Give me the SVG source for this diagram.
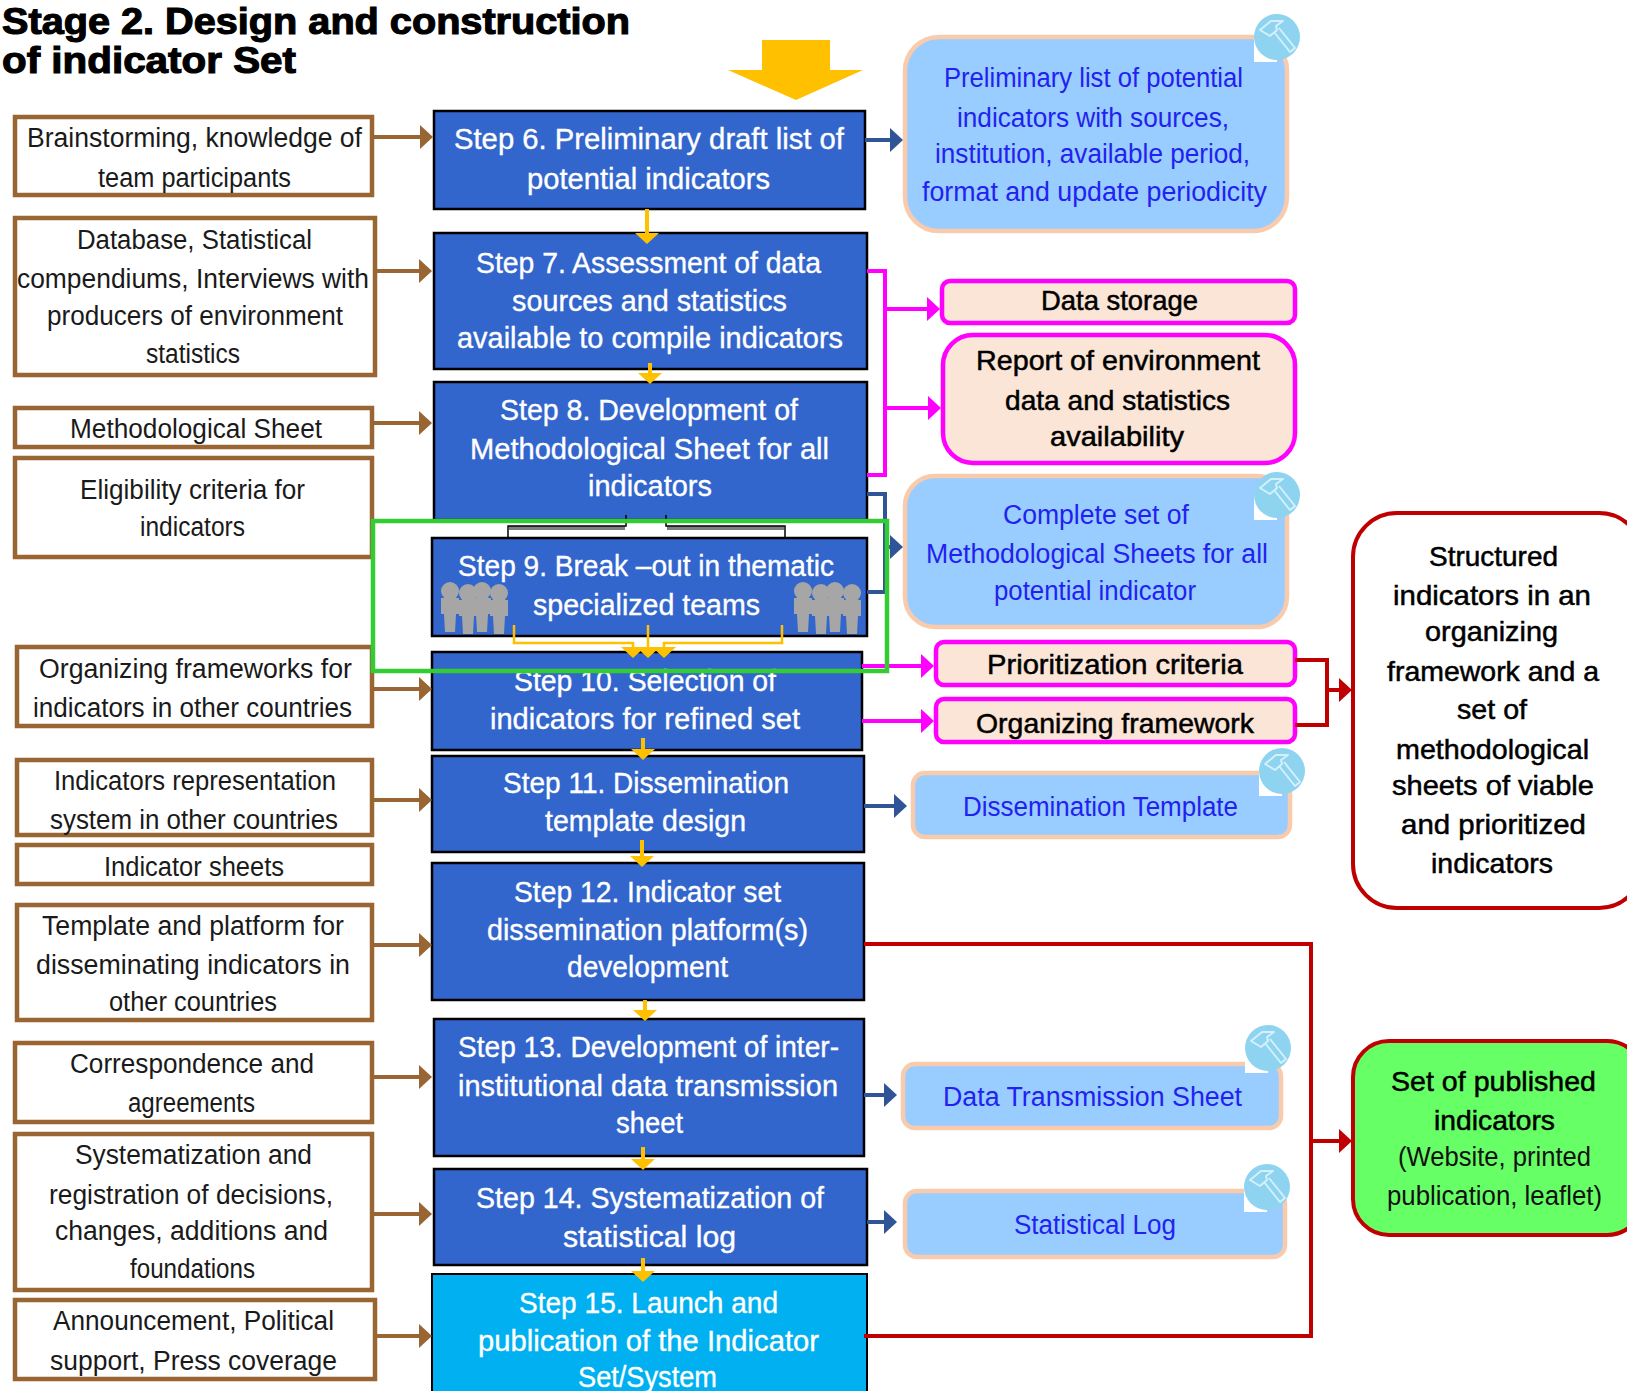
<svg xmlns="http://www.w3.org/2000/svg" width="1627" height="1391" viewBox="0 0 1627 1391">
<style>
text{font-family:"Liberation Sans",Arial,sans-serif;transform:translateY(-1px)}
.t{font-size:36px;font-weight:bold;fill:#000;stroke:#000;stroke-width:1.1;transform:translateY(1px)}
.l{font-size:27px;fill:#1a1a1a}
.c{font-size:29px;fill:#fff;stroke:#fff;stroke-width:.35}
.b{font-size:27px;fill:#2222f0}
.k{font-size:28px;fill:#000;stroke:#000;stroke-width:.5}
.n{font-size:27px;fill:#111}
.lb{fill:#fff;stroke:#996633;stroke-width:4.5}
.cb{fill:#3366cc;stroke:#000;stroke-width:2.5}
.bb{fill:#99ccff;stroke:#f8cbad;stroke-width:4.5}
.mb{fill:#fbe5d6;stroke:#ff00ff;stroke-width:4.5}
</style>
<defs>
<marker id="aBr" markerUnits="userSpaceOnUse" markerWidth="14" markerHeight="26" refX="1" refY="13" orient="auto"><path d="M0 1L13 13L0 25Z" fill="#996633"/></marker>
<marker id="aBl" markerUnits="userSpaceOnUse" markerWidth="14" markerHeight="26" refX="1" refY="13" orient="auto"><path d="M0 1L13 13L0 25Z" fill="#2f5597"/></marker>
<marker id="aMg" markerUnits="userSpaceOnUse" markerWidth="14" markerHeight="26" refX="1" refY="13" orient="auto"><path d="M0 1L13 13L0 25Z" fill="#ff00ff"/></marker>
<marker id="aRd" markerUnits="userSpaceOnUse" markerWidth="14" markerHeight="26" refX="1" refY="13" orient="auto"><path d="M0 1L13 13L0 25Z" fill="#c00000"/></marker>
<marker id="aYl" markerUnits="userSpaceOnUse" markerWidth="12" markerHeight="26" refX="1" refY="13" orient="auto"><path d="M0 1L11 13L0 25Z" fill="#ffc000"/></marker>
<g id="tool">
<rect x="-23" y="0" width="23" height="25" fill="#fff"/>
<circle r="23" fill="#8ed3f0"/>
<g fill="none" stroke="#d4f0fb" stroke-width="2" stroke-linejoin="round">
<path d="M-17 -7L-6 -16L6 -16L-1 -11L0 -7L-7 -1Z"/>
<path d="M-3 -5L13 15L18 11L2 -9"/>
</g>
</g>
<g id="man" fill="#a6a6a6">
<ellipse cx="0" cy="-17" rx="9" ry="9"/>
<path d="M-9 -10H9L9 6L6 6L5 24H-5L-6 6L-9 6Z"/>
</g>
<g id="team">
<use href="#man" x="11" y="21"/><use href="#man" x="29" y="23"/><use href="#man" x="43" y="21"/><use href="#man" x="60" y="23"/>
</g>
</defs>

<text class="t" x="2" y="33" textLength="628" lengthAdjust="spacingAndGlyphs">Stage 2. Design and construction</text>
<text class="t" x="2" y="72" textLength="294" lengthAdjust="spacingAndGlyphs">of indicator Set</text>
<polygon id="entry-arrow" points="762,40 830,40 830,70 863,70 796,100 728,70 762,70" fill="#ffc000"/>

<g id="src-1"><rect class="lb" x="15" y="117" width="357" height="78"/>
<text class="l" x="27" y="148" textLength="335" lengthAdjust="spacingAndGlyphs">Brainstorming, knowledge of</text>
<text class="l" x="98" y="188" textLength="193" lengthAdjust="spacingAndGlyphs">team participants</text></g>
<g id="src-2"><rect class="lb" x="15" y="218" width="360" height="157"/>
<text class="l" x="77" y="250" textLength="235" lengthAdjust="spacingAndGlyphs">Database, Statistical</text>
<text class="l" x="17" y="289" textLength="352" lengthAdjust="spacingAndGlyphs">compendiums, Interviews with</text>
<text class="l" x="47" y="326" textLength="296" lengthAdjust="spacingAndGlyphs">producers of environment</text>
<text class="l" x="146" y="364" textLength="94" lengthAdjust="spacingAndGlyphs">statistics</text></g>
<g id="src-3"><rect class="lb" x="15" y="408" width="357" height="39"/>
<text class="l" x="70" y="439" textLength="252" lengthAdjust="spacingAndGlyphs">Methodological Sheet</text></g>
<g id="src-4"><rect class="lb" x="15" y="458" width="357" height="99"/>
<text class="l" x="80" y="500" textLength="225" lengthAdjust="spacingAndGlyphs">Eligibility criteria for</text>
<text class="l" x="140" y="537" textLength="105" lengthAdjust="spacingAndGlyphs">indicators</text></g>
<g id="src-5"><rect class="lb" x="17" y="647" width="355" height="79"/>
<text class="l" x="39" y="679" textLength="313" lengthAdjust="spacingAndGlyphs">Organizing frameworks for</text>
<text class="l" x="33" y="718" textLength="319" lengthAdjust="spacingAndGlyphs">indicators in other countries</text></g>
<g id="src-6"><rect class="lb" x="17" y="760" width="355" height="75"/>
<text class="l" x="54" y="791" textLength="282" lengthAdjust="spacingAndGlyphs">Indicators representation</text>
<text class="l" x="50" y="830" textLength="288" lengthAdjust="spacingAndGlyphs">system in other countries</text></g>
<g id="src-7"><rect class="lb" x="17" y="845" width="355" height="39"/>
<text class="l" x="104" y="877" textLength="180" lengthAdjust="spacingAndGlyphs">Indicator sheets</text></g>
<g id="src-8"><rect class="lb" x="17" y="905" width="355" height="115"/>
<text class="l" x="42" y="936" textLength="302" lengthAdjust="spacingAndGlyphs">Template and platform for</text>
<text class="l" x="36" y="975" textLength="314" lengthAdjust="spacingAndGlyphs">disseminating indicators in</text>
<text class="l" x="109" y="1012" textLength="168" lengthAdjust="spacingAndGlyphs">other countries</text></g>
<g id="src-9"><rect class="lb" x="15" y="1043" width="357" height="79"/>
<text class="l" x="70" y="1074" textLength="244" lengthAdjust="spacingAndGlyphs">Correspondence and</text>
<text class="l" x="128" y="1113" textLength="127" lengthAdjust="spacingAndGlyphs">agreements</text></g>
<g id="src-10"><rect class="lb" x="15" y="1134" width="357" height="156"/>
<text class="l" x="75" y="1165" textLength="237" lengthAdjust="spacingAndGlyphs">Systematization and</text>
<text class="l" x="49" y="1205" textLength="284" lengthAdjust="spacingAndGlyphs">registration of decisions,</text>
<text class="l" x="55" y="1241" textLength="273" lengthAdjust="spacingAndGlyphs">changes, additions and</text>
<text class="l" x="130" y="1279" textLength="125" lengthAdjust="spacingAndGlyphs">foundations</text></g>
<g id="src-11"><rect class="lb" x="15" y="1300" width="360" height="79"/>
<text class="l" x="53" y="1331" textLength="281" lengthAdjust="spacingAndGlyphs">Announcement, Political</text>
<text class="l" x="50" y="1371" textLength="287" lengthAdjust="spacingAndGlyphs">support, Press coverage</text></g>

<g id="step-6"><rect class="cb" x="434" y="111" width="431" height="98"/>
<text class="c" x="454" y="150" textLength="390" lengthAdjust="spacingAndGlyphs">Step 6. Preliminary draft list of</text>
<text class="c" x="527" y="190" textLength="243" lengthAdjust="spacingAndGlyphs">potential indicators</text></g>
<g id="step-7"><rect class="cb" x="434" y="233" width="433" height="136"/>
<text class="c" x="476" y="274" textLength="345" lengthAdjust="spacingAndGlyphs">Step 7. Assessment of data</text>
<text class="c" x="512" y="312" textLength="275" lengthAdjust="spacingAndGlyphs">sources and statistics</text>
<text class="c" x="457" y="349" textLength="386" lengthAdjust="spacingAndGlyphs">available to compile indicators</text></g>
<g id="step-8"><rect class="cb" x="434" y="382" width="433" height="138"/>
<text class="c" x="500" y="421" textLength="298" lengthAdjust="spacingAndGlyphs">Step 8. Development of</text>
<text class="c" x="470" y="460" textLength="359" lengthAdjust="spacingAndGlyphs">Methodological Sheet for all</text>
<text class="c" x="588" y="497" textLength="124" lengthAdjust="spacingAndGlyphs">indicators</text></g>
<g id="step-9"><rect class="cb" x="432" y="538" width="435" height="98"/>
<text class="c" x="458" y="577" textLength="376" lengthAdjust="spacingAndGlyphs">Step 9. Break –out in thematic</text>
<text class="c" x="533" y="616" textLength="227" lengthAdjust="spacingAndGlyphs">specialized teams</text>
<use href="#team" x="439" y="587"/><use href="#team" x="792" y="587"/></g>
<g id="step-10"><rect class="cb" x="432" y="652" width="430" height="98"/>
<text class="c" x="514" y="692" textLength="262" lengthAdjust="spacingAndGlyphs">Step 10. Selection of</text>
<text class="c" x="490" y="730" textLength="310" lengthAdjust="spacingAndGlyphs">indicators for refined set</text></g>
<g id="step-11"><rect class="cb" x="432" y="756" width="432" height="96"/>
<text class="c" x="503" y="794" textLength="286" lengthAdjust="spacingAndGlyphs">Step 11. Dissemination</text>
<text class="c" x="545" y="832" textLength="201" lengthAdjust="spacingAndGlyphs">template design</text></g>
<g id="step-12"><rect class="cb" x="432" y="863" width="432" height="137"/>
<text class="c" x="514" y="903" textLength="267" lengthAdjust="spacingAndGlyphs">Step 12. Indicator set</text>
<text class="c" x="487" y="941" textLength="321" lengthAdjust="spacingAndGlyphs">dissemination platform(s)</text>
<text class="c" x="567" y="978" textLength="161" lengthAdjust="spacingAndGlyphs">development</text></g>
<g id="step-13"><rect class="cb" x="434" y="1019" width="430" height="137"/>
<text class="c" x="458" y="1058" textLength="381" lengthAdjust="spacingAndGlyphs">Step 13. Development of inter-</text>
<text class="c" x="458" y="1097" textLength="380" lengthAdjust="spacingAndGlyphs">institutional data transmission</text>
<text class="c" x="616" y="1134" textLength="67" lengthAdjust="spacingAndGlyphs">sheet</text></g>
<g id="step-14"><rect class="cb" x="434" y="1169" width="433" height="96"/>
<text class="c" x="476" y="1209" textLength="348" lengthAdjust="spacingAndGlyphs">Step 14. Systematization of</text>
<text class="c" x="563" y="1248" textLength="173" lengthAdjust="spacingAndGlyphs">statistical log</text></g>
<g id="step-15"><rect x="432" y="1274" width="435" height="125" fill="#00b0f0" stroke="#000" stroke-width="2"/>
<text class="c" x="519" y="1314" textLength="259" lengthAdjust="spacingAndGlyphs">Step 15. Launch and</text>
<text class="c" x="478" y="1352" textLength="341" lengthAdjust="spacingAndGlyphs">publication of the Indicator</text>
<text class="c" x="578" y="1388" textLength="139" lengthAdjust="spacingAndGlyphs">Set/System</text></g>

<g id="out-list"><rect class="bb" x="905" y="37" width="382" height="194" rx="34"/>
<text class="b" x="944" y="88" textLength="299" lengthAdjust="spacingAndGlyphs">Preliminary list of potential</text>
<text class="b" x="957" y="128" textLength="272" lengthAdjust="spacingAndGlyphs">indicators with sources,</text>
<text class="b" x="935" y="164" textLength="315" lengthAdjust="spacingAndGlyphs">institution, available period,</text>
<text class="b" x="922" y="202" textLength="345" lengthAdjust="spacingAndGlyphs">format and update periodicity</text>
<use href="#tool" x="1277" y="37"/></g>
<g id="out-storage"><rect class="mb" x="942" y="281" width="353" height="42" rx="8"/>
<text class="k" x="1041" y="311" textLength="157" lengthAdjust="spacingAndGlyphs">Data storage</text></g>
<g id="out-report"><rect class="mb" x="943" y="335" width="352" height="128" rx="30"/>
<text class="k" x="976" y="371" textLength="284" lengthAdjust="spacingAndGlyphs">Report of environment</text>
<text class="k" x="1005" y="411" textLength="225" lengthAdjust="spacingAndGlyphs">data and statistics</text>
<text class="k" x="1050" y="447" textLength="134" lengthAdjust="spacingAndGlyphs">availability</text></g>
<g id="out-sheets"><rect class="bb" x="905" y="476" width="382" height="151" rx="30"/>
<text class="b" x="1003" y="525" textLength="186" lengthAdjust="spacingAndGlyphs">Complete set of</text>
<text class="b" x="926" y="564" textLength="342" lengthAdjust="spacingAndGlyphs">Methodological Sheets for all</text>
<text class="b" x="994" y="601" textLength="202" lengthAdjust="spacingAndGlyphs">potential indicator</text>
<use href="#tool" x="1277" y="495"/></g>
<g id="out-criteria"><rect class="mb" x="936" y="642" width="359" height="43" rx="8"/>
<text class="k" x="987" y="675" textLength="256" lengthAdjust="spacingAndGlyphs">Prioritization criteria</text></g>
<g id="out-framework"><rect class="mb" x="936" y="699" width="359" height="43" rx="8"/>
<text class="k" x="976" y="734" textLength="278" lengthAdjust="spacingAndGlyphs">Organizing framework</text></g>
<g id="out-template"><rect class="bb" x="913" y="773" width="377" height="64" rx="12"/>
<text class="b" x="963" y="817" textLength="275" lengthAdjust="spacingAndGlyphs">Dissemination Template</text>
<use href="#tool" x="1282" y="771"/></g>
<g id="out-transmission"><rect class="bb" x="903" y="1064" width="378" height="64" rx="12"/>
<text class="b" x="943" y="1107" textLength="299" lengthAdjust="spacingAndGlyphs">Data Transmission Sheet</text>
<use href="#tool" x="1268" y="1048"/></g>
<g id="out-log"><rect class="bb" x="905" y="1191" width="380" height="66" rx="12"/>
<text class="b" x="1014" y="1235" textLength="162" lengthAdjust="spacingAndGlyphs">Statistical Log</text>
<use href="#tool" x="1267" y="1187"/></g>
<g id="result-structured"><rect x="1353" y="513" width="290" height="395" rx="44" fill="#fff" stroke="#c00000" stroke-width="4"/>
<text class="k" x="1429" y="567" textLength="129" lengthAdjust="spacingAndGlyphs">Structured</text>
<text class="k" x="1393" y="606" textLength="198" lengthAdjust="spacingAndGlyphs">indicators in an</text>
<text class="k" x="1425" y="642" textLength="133" lengthAdjust="spacingAndGlyphs">organizing</text>
<text class="k" x="1387" y="682" textLength="212" lengthAdjust="spacingAndGlyphs">framework and a</text>
<text class="k" x="1457" y="720" textLength="70" lengthAdjust="spacingAndGlyphs">set of</text>
<text class="k" x="1396" y="760" textLength="193" lengthAdjust="spacingAndGlyphs">methodological</text>
<text class="k" x="1392" y="796" textLength="202" lengthAdjust="spacingAndGlyphs">sheets of viable</text>
<text class="k" x="1401" y="835" textLength="185" lengthAdjust="spacingAndGlyphs">and prioritized</text>
<text class="k" x="1431" y="874" textLength="122" lengthAdjust="spacingAndGlyphs">indicators</text></g>
<g id="result-published"><rect x="1353" y="1041" width="290" height="194" rx="36" fill="#66ff66" stroke="#c00000" stroke-width="4"/>
<text class="k" x="1391" y="1092" textLength="205" lengthAdjust="spacingAndGlyphs">Set of published</text>
<text class="k" x="1434" y="1131" textLength="121" lengthAdjust="spacingAndGlyphs">indicators</text>
<text class="n" x="1398" y="1167" textLength="193" lengthAdjust="spacingAndGlyphs">(Website, printed</text>
<text class="n" x="1387" y="1206" textLength="215" lengthAdjust="spacingAndGlyphs">publication, leaflet)</text></g>

<g id="connectors">
<g fill="none" stroke-width="4" stroke="#996633">
<path d="M372 137H421" marker-end="url(#aBr)"/><path d="M375 271H420" marker-end="url(#aBr)"/><path d="M372 423H420" marker-end="url(#aBr)"/><path d="M372 689H420" marker-end="url(#aBr)"/><path d="M372 800H420" marker-end="url(#aBr)"/><path d="M372 945H420" marker-end="url(#aBr)"/><path d="M372 1077H420" marker-end="url(#aBr)"/><path d="M372 1214H420" marker-end="url(#aBr)"/><path d="M375 1336H420" marker-end="url(#aBr)"/>
</g>
<g fill="none" stroke-width="4" stroke="#2f5597">
<path d="M865 140H891" marker-end="url(#aBl)"/><path d="M864 806H895" marker-end="url(#aBl)"/><path d="M864 1095H885" marker-end="url(#aBl)"/><path d="M867 1222H885" marker-end="url(#aBl)"/>
<path d="M867 494H885V592H867"/><path d="M885 547H891" marker-end="url(#aBl)"/>
</g>
<g fill="none" stroke-width="4" stroke="#ff00ff">
<path d="M867 271H885V475H867"/><path d="M885 309H928" marker-end="url(#aMg)"/><path d="M885 408H929" marker-end="url(#aMg)"/>
<path d="M862 666H922" marker-end="url(#aMg)"/><path d="M862 721H922" marker-end="url(#aMg)"/>
</g>
<g fill="none" stroke-width="4" stroke="#c00000">
<path d="M1295 660H1327V725H1295"/><path d="M1327 690H1340" marker-end="url(#aRd)"/>
<path d="M864 944H1311V1336H864"/><path d="M1311 1141H1340" marker-end="url(#aRd)"/>
</g>
<g fill="none" stroke-width="4" stroke="#ffc000">
<path d="M647 209V234" marker-end="url(#aYl)"/><path d="M650 363V374" marker-end="url(#aYl)"/><path d="M643 738V750" marker-end="url(#aYl)"/><path d="M642 840V857" marker-end="url(#aYl)"/><path d="M645 1000V1011" marker-end="url(#aYl)"/><path d="M643 1147V1160" marker-end="url(#aYl)"/><path d="M643 1258V1272" marker-end="url(#aYl)"/>
</g>
<g fill="none" stroke="#ffc000" stroke-width="2.5">
<path d="M514 625V643H633V648" marker-end="url(#aYl)"/><path d="M648 625V648" marker-end="url(#aYl)"/><path d="M782 625V643H664V648" marker-end="url(#aYl)"/>
</g>
<g fill="none" stroke="#7f7f7f" stroke-width="4"><path d="M509 528H625M667 528H784"/></g>
<g fill="none" stroke="#000" stroke-width="1.5"><path d="M508 539V526H626V515M666 515V526H785V539"/></g>
</g>
<rect id="highlight" x="373" y="521" width="514" height="150" fill="none" stroke="#33cc33" stroke-width="4.5"/>
</svg>
